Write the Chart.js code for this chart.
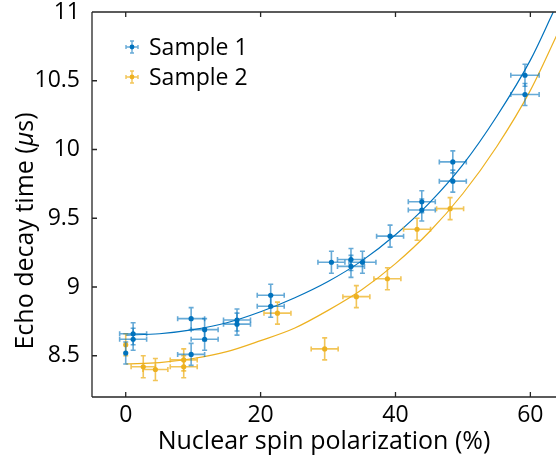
<!DOCTYPE html>
<html>
<head>
<meta charset="utf-8">
<script src="https://cdn.jsdelivr.net/npm/chart.js@4.4.1/dist/chart.umd.min.js"></script>
<style>
html, body { margin: 0; padding: 0; background: #fff; }
</style>
</head>
<body>
<canvas id="myChart" width="556" height="455"></canvas>
<script>
// tick labels
const xTicks = [0, 20, 40, 60];
const yTicks = [8.5, 9, 9.5, 10, 10.5, 11];

// Sample 1 (blue)
const s1X    = [0, 1.1, 1.1, 9.7, 9.7, 11.7, 11.7, 16.5, 16.5, 21.5, 21.5, 30.5, 33.4, 33.4, 35.1, 39.2, 43.9, 43.9, 48.5, 48.5, 59.2, 59.2];
const s1Y    = [8.52, 8.66, 8.62, 8.77, 8.51, 8.69, 8.62, 8.76, 8.73, 8.94, 8.86, 9.18, 9.20, 9.15, 9.18, 9.37, 9.62, 9.56, 9.91, 9.77, 10.54, 10.40];
const s1XErr = [0, 2, 2, 2, 2, 2, 2, 2, 2, 2, 2, 2, 2, 2, 2, 2, 2, 2, 2, 2, 2.1, 2.1];
const s1YErr = [0.08, 0.08, 0.08, 0.08, 0.08, 0.08, 0.08, 0.08, 0.08, 0.08, 0.08, 0.08, 0.08, 0.08, 0.08, 0.08, 0.08, 0.08, 0.08, 0.08, 0.08, 0.08];

// Sample 2 (orange)
const s2X    = [0, 2.6, 4.4, 8.6, 8.6, 22.5, 29.5, 34.2, 38.8, 43.2, 48.1];
const s2Y    = [8.58, 8.42, 8.40, 8.47, 8.42, 8.81, 8.55, 8.93, 9.06, 9.42, 9.57];
const s2XErr = [0, 1.8, 1.85, 2, 2, 2, 2, 2, 2, 2, 2];
const s2YErr = [0.08, 0.08, 0.08, 0.08, 0.08, 0.08, 0.08, 0.08, 0.08, 0.08, 0.08];

// fitted curves
const fit1X = [0, 5, 10, 15, 20, 25, 30, 35, 40, 45, 50, 55, 60, 63.4];
const fit1Y = [8.65, 8.66, 8.69, 8.74, 8.82, 8.92, 9.04, 9.19, 9.38, 9.61, 9.89, 10.24, 10.65, 11.0];
const fit2X = [0, 5, 10, 15, 20, 25, 30, 35, 40, 45, 50, 55, 60, 64];
const fit2Y = [8.44, 8.45, 8.48, 8.53, 8.61, 8.70, 8.83, 8.98, 9.17, 9.40, 9.68, 10.02, 10.43, 10.84];

const blue = '#0072BD';
const orange = '#EDB120';
const blueBar = 'rgba(0,114,189,0.6)';
const orangeBar = 'rgba(237,177,32,0.75)';
const FONT = '"Open Sans", sans-serif';

const toPts = (xs, ys) => xs.map((x, i) => ({x: x, y: ys[i]}));

const errorBars = {
    id: 'errorBars',
    afterDatasetsDraw(chart) {
        const ctx = chart.ctx;
        const xs = chart.scales.x, ys = chart.scales.y;
        ctx.save();
        chart.data.datasets.forEach(ds => {
            if (!ds.xErr) return;
            ctx.strokeStyle = ds.barColor;
            ctx.lineWidth = 1.6;
            ds.data.forEach((p, i) => {
                const px = xs.getPixelForValue(p.x), py = ys.getPixelForValue(p.y);
                const x0 = xs.getPixelForValue(p.x - ds.xErr[i]), x1 = xs.getPixelForValue(p.x + ds.xErr[i]);
                const y0 = ys.getPixelForValue(p.y - ds.yErr[i]), y1 = ys.getPixelForValue(p.y + ds.yErr[i]);
                ctx.beginPath();
                ctx.moveTo(px, y0); ctx.lineTo(px, y1);
                ctx.moveTo(px - 2.5, y0); ctx.lineTo(px + 2.5, y0);
                ctx.moveTo(px - 2.5, y1); ctx.lineTo(px + 2.5, y1);
                if (ds.xErr[i] > 0) {
                    ctx.moveTo(x0, py); ctx.lineTo(x1, py);
                    ctx.moveTo(x0, py - 2.5); ctx.lineTo(x0, py + 2.5);
                    ctx.moveTo(x1, py - 2.5); ctx.lineTo(x1, py + 2.5);
                }
                ctx.stroke();
            });
            ctx.fillStyle = ds.pointBackgroundColor;
            ds.data.forEach(p => {
                ctx.beginPath();
                ctx.arc(xs.getPixelForValue(p.x), ys.getPixelForValue(p.y), 2.6, 0, Math.PI * 2);
                ctx.fill();
            });
        });
        ctx.restore();
    }
};

const boxAxes = {
    id: 'boxAxes',
    afterDraw(chart) {
        const ctx = chart.ctx;
        const a = chart.chartArea;
        const xs = chart.scales.x, ys = chart.scales.y;
        ctx.save();
        ctx.strokeStyle = '#262626';
        ctx.lineWidth = 1.3;
        ctx.beginPath();
        ctx.moveTo(a.left, a.top); ctx.lineTo(a.right + 2, a.top);
        ctx.moveTo(a.left, a.top); ctx.lineTo(a.left, a.bottom);
        ctx.moveTo(a.left, a.bottom); ctx.lineTo(a.right + 2, a.bottom);
        xTicks.forEach(v => {
            const px = xs.getPixelForValue(v);
            ctx.moveTo(px, a.bottom); ctx.lineTo(px, a.bottom - 5);
            ctx.moveTo(px, a.top); ctx.lineTo(px, a.top + 5);
        });
        yTicks.forEach(v => {
            const py = ys.getPixelForValue(v);
            ctx.moveTo(a.left, py); ctx.lineTo(a.left + 5, py);
        });
        ctx.stroke();

        // axis titles
        ctx.fillStyle = '#000';
        ctx.font = '25px ' + FONT;
        ctx.textAlign = 'center';
        ctx.textBaseline = 'alphabetic';
        ctx.fillText('Nuclear spin polarization (%)', (a.left + a.right) / 2, 449);

        ctx.save();
        ctx.translate(33, 231);
        ctx.rotate(-Math.PI / 2);
        const p1 = 'Echo decay time (', p2 = 'μ', p3 = 's)';
        ctx.font = '25px ' + FONT;
        const w1 = ctx.measureText(p1).width, w3 = ctx.measureText(p3).width;
        ctx.font = 'italic 25px ' + FONT;
        const w2 = ctx.measureText(p2).width;
        let tx = -(w1 + w2 + w3) / 2;
        ctx.textAlign = 'left';
        ctx.font = '25px ' + FONT;
        ctx.fillText(p1, tx, 0);
        ctx.font = 'italic 25px ' + FONT;
        ctx.fillText(p2, tx + w1, 0);
        ctx.font = '25px ' + FONT;
        ctx.fillText(p3, tx + w1 + w2, 0);
        ctx.restore();

        // legend
        const items = [['Sample 1', blue, blueBar], ['Sample 2', orange, orangeBar]];
        ctx.font = '23px ' + FONT;
        ctx.textAlign = 'left';
        ctx.textBaseline = 'middle';
        items.forEach((it, i) => {
            const cx = 132, cy = 47 + i * 30;
            ctx.strokeStyle = it[2];
            ctx.lineWidth = 1.4;
            ctx.beginPath();
            ctx.moveTo(cx - 6, cy); ctx.lineTo(cx + 6, cy);
            ctx.moveTo(cx - 6, cy - 2); ctx.lineTo(cx - 6, cy + 2);
            ctx.moveTo(cx + 6, cy - 2); ctx.lineTo(cx + 6, cy + 2);
            ctx.moveTo(cx, cy - 6); ctx.lineTo(cx, cy + 6);
            ctx.moveTo(cx - 2, cy - 6); ctx.lineTo(cx + 2, cy - 6);
            ctx.moveTo(cx - 2, cy + 6); ctx.lineTo(cx + 2, cy + 6);
            ctx.stroke();
            ctx.fillStyle = it[1];
            ctx.beginPath();
            ctx.arc(cx, cy, 2.4, 0, Math.PI * 2);
            ctx.fill();
            ctx.fillStyle = '#000';
            ctx.fillText(it[0], 149, cy + 1);
        });
        ctx.restore();
    }
};

const ctx = document.getElementById('myChart').getContext('2d');
const myChart = new Chart(ctx, {
    type: 'scatter',
    data: {
        datasets: [
            {
                label: 'Sample 1 fit',
                data: toPts(fit1X, fit1Y),
                showLine: true,
                cubicInterpolationMode: 'monotone',
                borderColor: blue,
                borderWidth: 1.2,
                pointRadius: 0
            },
            {
                label: 'Sample 2 fit',
                data: toPts(fit2X, fit2Y),
                showLine: true,
                cubicInterpolationMode: 'monotone',
                borderColor: orange,
                borderWidth: 1.2,
                pointRadius: 0
            },
            {
                label: 'Sample 2',
                data: toPts(s2X, s2Y),
                xErr: s2XErr,
                yErr: s2YErr,
                barColor: orangeBar,
                pointBackgroundColor: orange,
                pointRadius: 0
            },
            {
                label: 'Sample 1',
                data: toPts(s1X, s1Y),
                xErr: s1XErr,
                yErr: s1YErr,
                barColor: blueBar,
                pointBackgroundColor: blue,
                pointRadius: 0
            }
        ]
    },
    options: {
        responsive: false,
        animation: false,
        events: [],
        layout: { padding: { top: 12, right: 0, left: 0, bottom: 0 } },
        plugins: { legend: { display: false }, tooltip: { enabled: false } },
        scales: {
            x: {
                type: 'linear',
                min: -5,
                max: 63.8,
                afterBuildTicks: s => { s.ticks = xTicks.map(v => ({value: v})); },
                afterFit: s => { s.height = 58; s.paddingLeft = 0; s.paddingRight = 0; },
                grid: { display: false, drawTicks: false },
                border: { display: false },
                ticks: { color: '#000', padding: 5, font: { family: FONT, size: 23 }, callback: v => String(v) }
            },
            y: {
                type: 'linear',
                min: 8.2,
                max: 11,
                afterBuildTicks: s => { s.ticks = yTicks.map(v => ({value: v})); },
                afterFit: s => { s.width = 92; s.paddingTop = 0; s.paddingBottom = 0; },
                grid: { display: false, drawTicks: false },
                border: { display: false },
                ticks: { color: '#000', padding: 12, font: { family: FONT, size: 23 }, callback: v => String(v) }
            }
        }
    },
    plugins: [errorBars, boxAxes]
});
</script>
</body>
</html>
